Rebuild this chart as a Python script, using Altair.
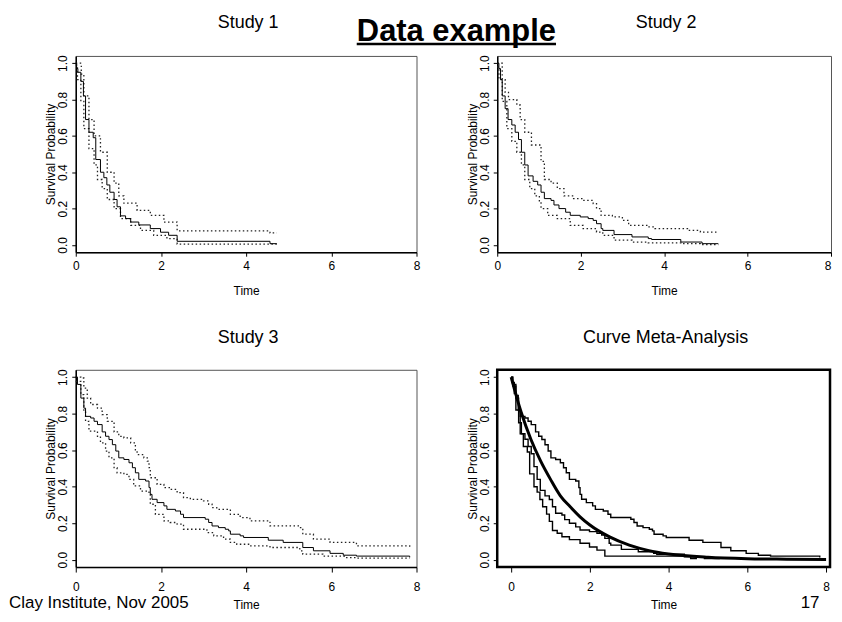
import altair as alt
import pandas as pd

FONT = "Liberation Sans"

# ---------------- Study 1 (Kaplan-Meier estimate + 95% band) ----------------
s1_time = [0.00, 0.02, 0.05, 0.12, 0.18, 0.23, 0.31, 0.41, 0.47, 0.58, 0.66, 0.73, 0.80, 0.90, 0.97,
           1.05, 1.17, 1.29, 1.48, 1.75, 1.99, 2.18, 2.38, 4.56, 4.72]
s1_surv = [1.00, 0.97, 0.95, 0.90, 0.82, 0.69, 0.62, 0.59, 0.47, 0.40, 0.37, 0.33, 0.29, 0.25, 0.21,
           0.16, 0.145, 0.126, 0.11, 0.09, 0.07, 0.053, 0.02, 0.007, 0.007]
s1_up_time = [0.00, 0.08, 0.13, 0.19, 0.31, 0.43, 0.58, 0.74, 0.90, 1.01, 1.13, 1.44, 1.75, 2.07, 2.38, 4.56, 4.72]
s1_up_surv = [1.00, 1.00, 0.94, 0.82, 0.69, 0.60, 0.51, 0.40, 0.34, 0.27, 0.23, 0.19, 0.163, 0.126, 0.077, 0.066, 0.066]
s1_lo_time = [0.00, 0.04, 0.12, 0.19, 0.31, 0.43, 0.51, 0.62, 0.74, 0.90, 1.05, 1.29, 1.52, 1.83, 2.14, 2.38, 4.72]
s1_lo_surv = [0.99, 0.91, 0.79, 0.64, 0.53, 0.44, 0.36, 0.31, 0.25, 0.20, 0.145, 0.108, 0.08, 0.053, 0.035, 0.005, 0.005]

# ---------------- Study 2 ----------------
s2_time = [0.00, 0.04, 0.08, 0.12, 0.19, 0.26, 0.35, 0.43, 0.51, 0.58, 0.66, 0.74, 0.86, 0.97, 1.05,
           1.13, 1.29, 1.36, 1.48, 1.64, 1.75, 1.99, 2.18, 2.30, 2.38, 2.49, 2.53, 2.80, 3.23, 3.62,
           3.70, 4.40, 4.91, 5.30]
s2_surv = [1.00, 0.97, 0.91, 0.82, 0.75, 0.69, 0.66, 0.62, 0.58, 0.51, 0.44, 0.38, 0.35, 0.33, 0.29,
           0.255, 0.245, 0.22, 0.20, 0.18, 0.163, 0.154, 0.145, 0.135, 0.117, 0.09, 0.08, 0.057, 0.044, 0.035,
           0.03, 0.016, 0.007, 0.007]
s2_up_time = [0.00, 0.08, 0.12, 0.19, 0.27, 0.47, 0.55, 0.66, 0.82, 1.05, 1.13, 1.29, 1.44, 1.60, 1.83,
              2.06, 2.30, 2.38, 2.49, 2.76, 3.00, 3.15, 3.62, 3.78, 4.56, 4.87, 5.30]
s2_up_surv = [1.00, 1.00, 0.91, 0.84, 0.80, 0.77, 0.69, 0.62, 0.55, 0.46, 0.36, 0.34, 0.31, 0.27, 0.255,
              0.245, 0.227, 0.20, 0.163, 0.154, 0.135, 0.108, 0.099, 0.09, 0.08, 0.071, 0.071]
s2_lo_time = [0.00, 0.04, 0.12, 0.23, 0.35, 0.47, 0.58, 0.66, 0.78, 0.90, 1.01, 1.05, 1.21, 1.44, 1.75,
              2.06, 2.38, 2.53, 2.80, 3.23, 3.62, 4.40, 4.87, 5.30]
s2_lo_surv = [0.98, 0.91, 0.79, 0.64, 0.57, 0.51, 0.44, 0.36, 0.31, 0.27, 0.236, 0.20, 0.163, 0.145, 0.108,
              0.09, 0.071, 0.053, 0.026, 0.016, 0.011, 0.007, 0.002, 0.002]

# ---------------- Study 3 ----------------
s3_time = [0.00, 0.04, 0.12, 0.19, 0.23, 0.35, 0.43, 0.51, 0.62, 0.70, 0.78, 0.86, 0.94, 1.01, 1.13,
           1.25, 1.33, 1.40, 1.48, 1.64, 1.72, 1.75, 1.79, 1.91, 2.07, 2.14, 2.34, 2.46, 2.53, 3.04,
           3.12, 3.20, 3.35, 3.51, 3.59, 3.63, 3.86, 3.94, 4.52, 4.87, 5.33, 5.58, 5.97, 6.28, 6.59, 7.84]
s3_surv = [1.00, 0.96, 0.885, 0.83, 0.785, 0.776, 0.758, 0.74, 0.70, 0.676, 0.658, 0.63, 0.595, 0.558, 0.549,
           0.531, 0.504, 0.476, 0.44, 0.431, 0.395, 0.358, 0.331, 0.313, 0.295, 0.276, 0.267, 0.249, 0.231, 0.222,
           0.204, 0.185, 0.176, 0.167, 0.158, 0.14, 0.131, 0.122, 0.107, 0.095, 0.067, 0.049, 0.035, 0.025, 0.02, 0.013]
s3_up_time = [0.00, 0.12, 0.19, 0.27, 0.35, 0.51, 0.62, 0.74, 0.90, 1.01, 1.13, 1.29, 1.40, 1.44, 1.60,
              1.68, 1.72, 1.75, 1.91, 2.07, 2.22, 2.38, 2.53, 2.69, 3.00, 3.12, 3.20, 3.31, 3.63, 3.86,
              4.09, 4.56, 5.26, 5.33, 5.58, 5.97, 6.59, 7.84]
s3_up_surv = [1.00, 0.995, 0.94, 0.885, 0.85, 0.83, 0.795, 0.758, 0.70, 0.676, 0.667, 0.64, 0.595, 0.576, 0.558,
              0.54, 0.504, 0.449, 0.413, 0.395, 0.385, 0.367, 0.34, 0.331, 0.322, 0.304, 0.285, 0.276, 0.249, 0.231,
              0.213, 0.185, 0.176, 0.14, 0.113, 0.095, 0.076, 0.071]
s3_lo_time = [0.00, 0.12, 0.19, 0.23, 0.31, 0.51, 0.58, 0.70, 0.78, 0.90, 0.97, 1.13, 1.25, 1.36, 1.52,
              1.72, 1.75, 1.87, 2.07, 2.22, 2.38, 2.53, 3.08, 3.24, 3.47, 3.63, 3.78, 4.09, 4.56, 5.26,
              5.33, 5.80, 6.30, 6.59, 7.84]
s3_lo_surv = [0.976, 0.904, 0.813, 0.758, 0.704, 0.676, 0.64, 0.595, 0.558, 0.504, 0.476, 0.467, 0.44, 0.404, 0.376,
              0.358, 0.304, 0.249, 0.213, 0.204, 0.195, 0.167, 0.149, 0.131, 0.113, 0.095, 0.085, 0.076, 0.067, 0.049,
              0.031, 0.02, 0.012, 0.009, 0.009]

# ---------------- Pooled (meta-analysis) curve ----------------
meta_time = [0.0, 0.25, 0.5, 0.75, 1.0, 1.25, 1.5, 1.75, 2.0, 2.5, 3.0, 3.5, 4.0, 5.0, 6.0, 7.0, 8.0]
meta_surv = [1.0, 0.81, 0.66, 0.54, 0.44, 0.35, 0.29, 0.235, 0.19, 0.125, 0.08, 0.05, 0.032, 0.014, 0.006, 0.003, 0.001]

x_ticks = [0, 2, 4, 6, 8]
y_ticks = [0.0, 0.2, 0.4, 0.6, 0.8, 1.0]
panel_titles = ["Study 1", "Study 2", "Study 3", "Curve Meta-Analysis"]
slide_title = "Data example"
footer_text = "Clay Institute, Nov 2005"
page_number = "17"


def frame(t, s, name):
    return pd.DataFrame({"t": t, "s": s, "curve": name})


def x_enc(dom, w, lab_pad, tick, title_y, domain_on, flush_last=False):
    align = alt.condition("datum.value == 8", alt.value("right"), alt.value("center")) if flush_last else "center"
    return alt.X(
        "t:Q",
        scale=alt.Scale(domain=dom, nice=False, zero=False),
        axis=alt.Axis(
            title="Time", values=x_ticks, format="d", grid=False,
            domain=domain_on, domainColor="black", domainWidth=1.5,
            tickSize=tick, tickColor="black", tickWidth=1,
            labelPadding=lab_pad, labelFlush=False, labelAlign=align,
            labelFontSize=12, labelColor="black", labelFont=FONT,
            titleFont=FONT, titleFontSize=12, titleFontWeight="normal", titleColor="black",
            titleX=w / 2, titleY=title_y, titleBaseline="alphabetic", titleAlign="center",
        ),
    )


def y_enc(h, domain_on):
    return alt.Y(
        "s:Q",
        scale=alt.Scale(domain=[-0.04, 1.04], nice=False, zero=False),
        axis=alt.Axis(
            title="Survival Probability", values=y_ticks, format=".1f", grid=False,
            domain=domain_on, domainColor="black", domainWidth=1.5,
            tickSize=4, tickColor="black", tickWidth=1,
            labelAngle=270, labelAlign="center", labelBaseline="bottom", labelPadding=2,
            labelFontSize=12, labelColor="black", labelFont=FONT,
            titleFont=FONT, titleFontSize=12, titleFontWeight="normal", titleColor="black",
            titleAngle=270, titleX=-18, titleY=h / 2, titleAlign="center", titleBaseline="bottom",
        ),
    )


def label_layer(text, x, y, size, align="center", weight="normal"):
    return alt.Chart(pd.DataFrame({"label": [text]})).mark_text(
        font=FONT, fontSize=size, fontWeight=weight, align=align, baseline="alphabetic", color="black"
    ).encode(x=alt.value(x), y=alt.value(y), text="label:N")


def km_panel(est, up, lo, title, w, h, lab_pad, tick, title_y, title_dy, extra=(), flush_last=False):
    X = x_enc([0, 8], w, lab_pad, tick, title_y, True, flush_last)
    Y = y_enc(h, True)
    solid = alt.Chart(est).mark_line(interpolate="step-after", color="black", strokeWidth=1).encode(x=X, y=Y)
    ci = alt.Chart(pd.concat([up, lo])).mark_line(
        interpolate="step-after", color="#222", strokeWidth=1.3, strokeDash=[1.5, 2.5]
    ).encode(x=X, y=Y, detail="curve:N")
    ttl = label_layer(title, w / 2 + 2, title_dy, 18)
    return alt.layer(ci, solid, ttl, *extra).properties(
        width=w, height=h, view=alt.ViewBackground(stroke="#555", strokeWidth=1)
    )


d1 = frame(s1_time, s1_surv, "s1")
d2 = frame(s2_time, s2_surv, "s2")
d3 = frame(s3_time, s3_surv, "s3")

# panel 1 also carries the slide title with its underline
title_layer = label_layer(slide_title, 382, -15, 31, weight="bold")
underline = alt.Chart(pd.DataFrame({"a": [0]})).mark_rule(color="black", strokeWidth=2.5).encode(
    x=alt.value(282), x2=alt.value(482), y=alt.value(-12)
)

p1 = km_panel(d1, frame(s1_up_time, s1_up_surv, "up"), frame(s1_lo_time, s1_lo_surv, "lo"),
              panel_titles[0], 342, 197, 4, 4, 42, -28, extra=(title_layer, underline))
p2 = km_panel(d2, frame(s2_up_time, s2_up_surv, "up"), frame(s2_lo_time, s2_lo_surv, "lo"),
              panel_titles[1], 335, 197, 4, 4, 42, -28, flush_last=True)
p3 = km_panel(d3, frame(s3_up_time, s3_up_surv, "up"), frame(s3_lo_time, s3_lo_surv, "lo"),
              panel_titles[2], 342, 198, 10, 5, 42, -27,
              extra=(label_layer(footer_text, -67, 239, 17, align="left"),))

# panel 4: the three study curves and the pooled curve
W4, H4 = 334, 198
X4 = x_enc([-0.354, 8.1], W4, 10, 5, 42, False)
Y4 = y_enc(H4, False)
km_all = alt.Chart(pd.concat([d1, d2, d3])).mark_line(
    interpolate="step-after", color="black", strokeWidth=1.4
).encode(x=X4, y=Y4, detail="curve:N")
pooled = alt.Chart(frame(meta_time, meta_surv, "meta")).mark_line(
    interpolate="monotone", color="black", strokeWidth=3
).encode(x=X4, y=Y4)
p4 = alt.layer(
    km_all, pooled,
    label_layer(panel_titles[3], 169, -27, 18),
    label_layer(page_number, 314, 239, 17),
).properties(width=W4, height=H4, view=alt.ViewBackground(stroke="black", strokeWidth=2.5))

chart = alt.concat(
    p1, p2, p3, p4, columns=2, bounds="flush", spacing={"row": 118, "column": 81}
).properties(
    padding={"top": 4, "left": 0, "right": 0, "bottom": -1}
).configure(font=FONT)

chart.save("out.html", embed_options={"renderer": "svg", "actions": False})
